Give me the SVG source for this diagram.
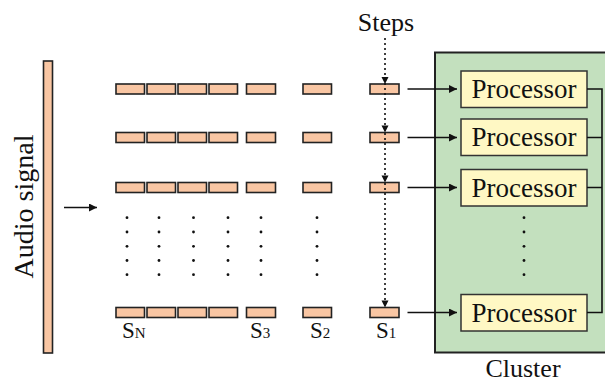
<svg xmlns="http://www.w3.org/2000/svg" width="605" height="381" viewBox="0 0 605 381">
<style>
.seg{fill:#F9C6A3;stroke:#222;stroke-width:1.6}
.proc{fill:#FFF8C4;stroke:#333;stroke-width:1.5}
text{font-family:'Liberation Serif','Times New Roman',serif;fill:#111}
.ln{stroke:#111;stroke-width:1.6;fill:none}
.dot{fill:#111}
.dash{stroke:#111;stroke-width:1.6;stroke-dasharray:2,3;fill:none}
</style>
<defs>
<marker id="ah" markerWidth="8" markerHeight="8" refX="8" refY="4" orient="auto" markerUnits="userSpaceOnUse">
<path d="M0,0 L8,4 L0,8 Z" fill="#111"/>
</marker>
<g id="dcol">
<circle cx="0" cy="217.7" r="1.4"/><circle cx="0" cy="232" r="1.4"/><circle cx="0" cy="246.3" r="1.4"/><circle cx="0" cy="260.5" r="1.4"/><circle cx="0" cy="274.7" r="1.4"/>
</g>
</defs>

<g id="cluster">
<rect x="435" y="52.5" width="180" height="300" fill="#C3E0BE" stroke="#222" stroke-width="2"/>
<text x="523" y="376.5" font-size="26" text-anchor="middle">Cluster</text>
<use href="#dcol" x="524" class="dot"/>
</g>

<g id="audio">
<rect x="43.5" y="61" width="9" height="292" class="seg"/>
<text font-size="28" text-anchor="middle" transform="translate(33,206.5) rotate(-90)">Audio signal</text>
</g>

<g id="segments">
<g id="row1">
<rect class="seg" x="116" y="84" width="28.5" height="10"/><rect class="seg" x="147" y="84" width="28.5" height="10"/><rect class="seg" x="178" y="84" width="28.5" height="10"/><rect class="seg" x="209" y="84" width="28.5" height="10"/><rect class="seg" x="246.5" y="84" width="29" height="10"/><rect class="seg" x="303" y="84" width="28.5" height="10"/><rect class="seg" x="370" y="84" width="29" height="10"/>
</g>
<g id="row2">
<rect class="seg" x="116" y="132.5" width="28.5" height="10"/><rect class="seg" x="147" y="132.5" width="28.5" height="10"/><rect class="seg" x="178" y="132.5" width="28.5" height="10"/><rect class="seg" x="209" y="132.5" width="28.5" height="10"/><rect class="seg" x="246.5" y="132.5" width="29" height="10"/><rect class="seg" x="303" y="132.5" width="28.5" height="10"/><rect class="seg" x="370" y="132.5" width="29" height="10"/>
</g>
<g id="row3">
<rect class="seg" x="116" y="182.5" width="28.5" height="10"/><rect class="seg" x="147" y="182.5" width="28.5" height="10"/><rect class="seg" x="178" y="182.5" width="28.5" height="10"/><rect class="seg" x="209" y="182.5" width="28.5" height="10"/><rect class="seg" x="246.5" y="182.5" width="29" height="10"/><rect class="seg" x="303" y="182.5" width="28.5" height="10"/><rect class="seg" x="370" y="182.5" width="29" height="10"/>
</g>
<g id="rowN">
<rect class="seg" x="116" y="307.5" width="28.5" height="10"/><rect class="seg" x="147" y="307.5" width="28.5" height="10"/><rect class="seg" x="178" y="307.5" width="28.5" height="10"/><rect class="seg" x="209" y="307.5" width="28.5" height="10"/><rect class="seg" x="246.5" y="307.5" width="29" height="10"/><rect class="seg" x="303" y="307.5" width="28.5" height="10"/><rect class="seg" x="370" y="307.5" width="29" height="10"/>
</g>
<g id="rowdots" class="dot">
<use href="#dcol" x="127"/><use href="#dcol" x="159"/><use href="#dcol" x="193.5"/><use href="#dcol" x="228"/><use href="#dcol" x="261"/><use href="#dcol" x="317"/>
</g>
</g>

<g id="labels">
<text x="122" y="337.5" font-size="23">S<tspan font-size="15">N</tspan></text>
<text x="250" y="337.5" font-size="23">S<tspan font-size="15">3</tspan></text>
<text x="310" y="337.5" font-size="23">S<tspan font-size="15">2</tspan></text>
<text x="376" y="337.5" font-size="23">S<tspan font-size="15">1</tspan></text>
<text x="386" y="30.5" font-size="26" text-anchor="middle">Steps</text>
</g>

<g id="processors">
<g id="p1"><rect class="proc" x="461" y="71" width="126" height="36.5"/><text x="524" y="98" font-size="27" text-anchor="middle">Processor</text></g>
<g id="p2"><rect class="proc" x="461" y="119" width="126" height="36.5"/><text x="524" y="146" font-size="27" text-anchor="middle">Processor</text></g>
<g id="p3"><rect class="proc" x="461" y="169.5" width="126" height="36.5"/><text x="524" y="196.5" font-size="27" text-anchor="middle">Processor</text></g>
<g id="p4"><rect class="proc" x="461" y="294.5" width="126" height="36.5"/><text x="524" y="321.5" font-size="27" text-anchor="middle">Processor</text></g>
</g>

<g id="connectors">
<line class="ln" x1="64" y1="207.5" x2="97" y2="207.5" marker-end="url(#ah)"/>
<line class="dash" x1="385" y1="38" x2="385" y2="306"/>
<path d="M381.5,77 L388.5,77 L385,84 Z M381.5,125.5 L388.5,125.5 L385,132.5 Z M381.5,175.5 L388.5,175.5 L385,182.5 Z M381.5,300.5 L388.5,300.5 L385,307.5 Z" fill="#111"/>
<line class="ln" x1="407.5" y1="89" x2="457" y2="89" marker-end="url(#ah)"/>
<line class="ln" x1="407.5" y1="137.5" x2="457" y2="137.5" marker-end="url(#ah)"/>
<line class="ln" x1="407.5" y1="187.5" x2="457" y2="187.5" marker-end="url(#ah)"/>
<line class="ln" x1="407.5" y1="312.5" x2="457" y2="312.5" marker-end="url(#ah)"/>
<path class="ln" d="M587,89 H602 V312.5 H587 M587,137.5 H602 M587,187.5 H602"/>
</g>
</svg>
